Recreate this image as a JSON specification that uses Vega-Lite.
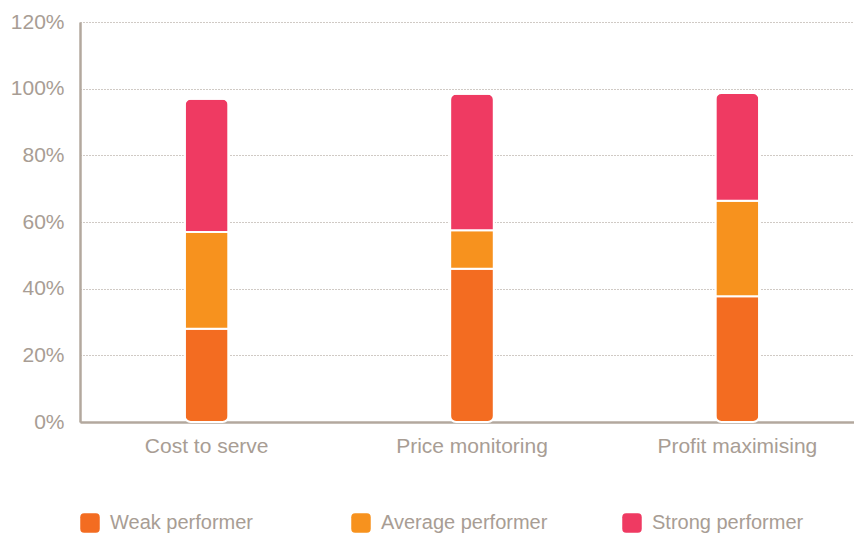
{
  "$schema": "https://vega.github.io/schema/vega-lite/v6.json",
  "autosize": {"type": "none"},
  "padding": {"left": 80, "top": 22, "right": 0, "bottom": 111},
  "width": 774,
  "height": 400,
  "background": "white",
  "config": {
    "view": {"stroke": null},
    "font": "Liberation Sans"
  },
  "data": {
    "values": [
      {"category": "Cost to serve", "performer": "Weak performer", "rank": 1, "value": 28},
      {"category": "Cost to serve", "performer": "Average performer", "rank": 2, "value": 29},
      {"category": "Cost to serve", "performer": "Strong performer", "rank": 3, "value": 40},
      {"category": "Price monitoring", "performer": "Weak performer", "rank": 1, "value": 46},
      {"category": "Price monitoring", "performer": "Average performer", "rank": 2, "value": 11.5},
      {"category": "Price monitoring", "performer": "Strong performer", "rank": 3, "value": 41},
      {"category": "Profit maximising", "performer": "Weak performer", "rank": 1, "value": 37.7},
      {"category": "Profit maximising", "performer": "Average performer", "rank": 2, "value": 28.7},
      {"category": "Profit maximising", "performer": "Strong performer", "rank": 3, "value": 32.3}
    ]
  },
  "mark": {"type": "bar", "cornerRadius": 6, "stroke": "white", "strokeWidth": 2},
  "encoding": {
    "x": {
      "field": "category",
      "type": "nominal",
      "sort": null,
      "scale": {"paddingInner": 0.835, "paddingOuter": 0.376, "align": 0.525},
      "axis": {
        "title": null,
        "labelAngle": 0,
        "labelFontSize": 21,
        "labelColor": "#a89d94",
        "labelPadding": 13,
        "ticks": false,
        "domainColor": "#b3a89e",
        "domainWidth": 2.5
      }
    },
    "y": {
      "field": "value",
      "type": "quantitative",
      "stack": "zero",
      "scale": {"domain": [0, 120], "nice": false},
      "axis": {
        "title": null,
        "values": [0, 20, 40, 60, 80, 100, 120],
        "labelExpr": "datum.value + '%'",
        "labelFontSize": 21,
        "labelColor": "#a89d94",
        "labelPadding": 16,
        "ticks": false,
        "domainColor": "#b3a89e",
        "domainWidth": 2.5,
        "grid": true,
        "gridColor": "#a0958b",
        "gridDash": [1, 2],
        "gridWidth": 1
      }
    },
    "color": {
      "field": "performer",
      "type": "nominal",
      "scale": {
        "domain": ["Weak performer", "Average performer", "Strong performer"],
        "range": ["#f36c21", "#f7921e", "#ef3a62"]
      },
      "legend": {
        "title": null,
        "orient": "none",
        "legendX": 0,
        "legendY": 491,
        "direction": "horizontal",
        "columns": 3,
        "gridAlign": "all",
        "columnPadding": 74,
        "symbolType": "M-0.6,-1H0.6Q1,-1 1,-0.6V0.6Q1,1 0.6,1H-0.6Q-1,1 -1,0.6V-0.6Q-1,-1 -0.6,-1Z",
        "symbolSize": 380,
        "symbolStrokeWidth": 0,
        "symbolOpacity": 1,
        "labelFontSize": 20,
        "labelLimit": 400,
        "labelColor": "#a89d94",
        "labelOffset": 10
      }
    },
    "order": {"field": "rank", "type": "quantitative"}
  }
}
